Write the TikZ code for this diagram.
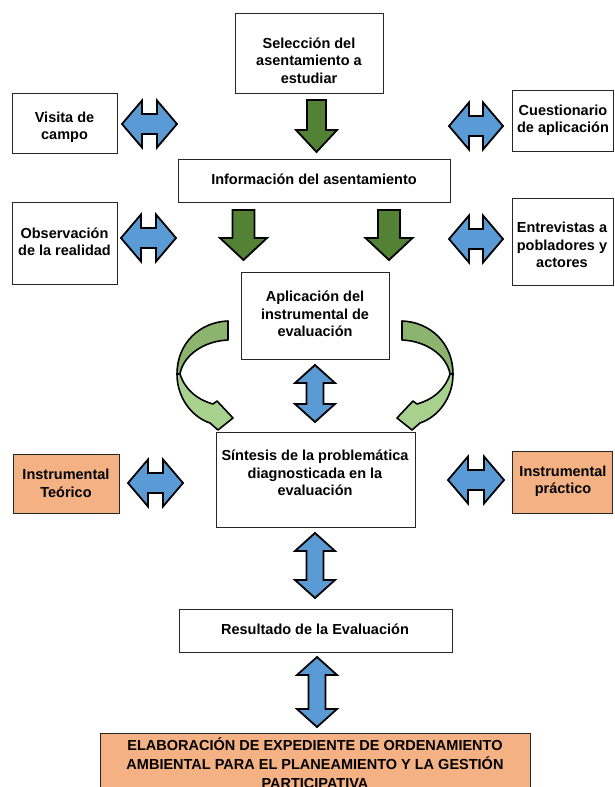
\documentclass[tikz,border=0pt]{standalone}
\usepackage{fontspec}
\setmainfont{Liberation Sans}
\definecolor{bl}{HTML}{5B9BD5}
\definecolor{gd}{HTML}{548235}
\definecolor{cvd}{HTML}{8CB46E}
\definecolor{cvl}{HTML}{A9D18E}
\definecolor{org}{HTML}{F4B183}
\tikzset{
 box/.style={draw=black!85, line width=0.9pt, fill=white, inner sep=0pt},
 obox/.style={box, fill=org},
 txt/.style={font=\bfseries\fontsize{14.5}{17.5}\selectfont, align=center, inner sep=0pt},
 bigtxt/.style={font=\bfseries\fontsize{14.5}{19}\selectfont, align=center, inner sep=0pt},
 bluearr/.style={draw=black, line width=1.8pt, fill=bl, line join=miter},
 greenarr/.style={draw=black, line width=1.8pt, fill=gd, line join=miter},
 curvd/.style={draw=black, line width=1.6pt, fill=cvd, line join=round},
 curvl/.style={draw=black, line width=1.6pt, fill=cvl, line join=round},
}
\newcommand{\HDA}[3]{\draw[bluearr] (#2,#1) -- (#2+20,#1-23.5) -- (#2+20,#1-10) -- (#3-20,#1-10) -- (#3-20,#1-23.5) -- (#3,#1) -- (#3-20,#1+23.5) -- (#3-20,#1+10) -- (#2+20,#1+10) -- (#2+20,#1+23.5) -- cycle;}
\newcommand{\VDA}[3]{\draw[bluearr] (#1,#2) -- (#1+20,#2+18) -- (#1+8.5,#2+18) -- (#1+8.5,#3-18) -- (#1+20,#3-18) -- (#1,#3) -- (#1-20,#3-18) -- (#1-8.5,#3-18) -- (#1-8.5,#2+18) -- (#1-20,#2+18) -- cycle;}
\newcommand{\GDA}[6]{\draw[greenarr] (#1-#5,#2) -- (#1+#5,#2) -- (#1+#5,#3-#6) -- (#1+#4,#3-#6) -- (#1,#3) -- (#1-#4,#3-#6) -- (#1-#5,#3-#6) -- cycle;}
\newcommand{\CURV}{%
 \draw[curvd] (228,321) .. controls (200,322) and (177,343) .. (177,374) -- (180,374) .. controls (183,356) and (203,341) .. (228,340) -- cycle;
 \draw[curvl] (177,374) .. controls (177,398) and (192,417) .. (210,423) -- (218,430) -- (233,418) -- (217,401) -- (213,404) .. controls (198,400) and (185,390) .. (180,374) -- cycle;}
\begin{document}
\begin{tikzpicture}[x=1pt,y=-1pt]
\useasboundingbox (0,0) rectangle (614,787);
\clip (0,0) rectangle (614,787);
\fill[white] (0,0) rectangle (614,787);
% boxes
\node[box, minimum width=148pt, minimum height=80pt] (sel) at (309,53) {};
\node[txt] (selt) at (309,60.5) {Selección del\\asentamiento a\\estudiar};
\node[box, minimum width=272pt, minimum height=43pt] (info) at (314,180.5) {};
\node[txt] (infot) at (314,179) {Información del asentamiento};
\node[box, minimum width=105pt, minimum height=60pt] (vis) at (64.5,123) {};
\node[txt] (vist) at (64.5,127) {Visita de\\campo};
\node[box, minimum width=105pt, minimum height=82pt] (obs) at (64.5,243) {};
\node[txt] (obst) at (64.5,242) {Observación\\de la realidad};
\node[box, minimum width=101pt, minimum height=61pt] (cue) at (562.5,120.5) {};
\node[txt] (cuet) at (563,120) {Cuestionario\\de aplicación};
\node[box, minimum width=101pt, minimum height=87pt] (ent) at (562.5,241.5) {};
\node[txt] (entt) at (562,245) {Entrevistas a\\pobladores y\\actores};
\node[box, minimum width=148pt, minimum height=87pt] (apl) at (315,315.5) {};
\node[txt] (aplt) at (315,314) {Aplicación del\\instrumental de\\evaluación};
\node[box, minimum width=199pt, minimum height=95pt] (sin) at (315.5,479.5) {};
\node[txt] (sint) at (315,473) {Síntesis de la problemática\\diagnosticada en la\\evaluación};
\node[obox, minimum width=106pt, minimum height=59pt] (teo) at (66,483.5) {};
\node[txt] (teot) at (66,483.5) {Instrumental\\Teórico};
\node[obox, minimum width=100pt, minimum height=62pt] (pra) at (562,482) {};
\node[txt] (prat) at (563,481) {Instrumental\\práctico};
\node[box, minimum width=273pt, minimum height=43pt] (res) at (315.5,630.5) {};
\node[txt] (rest) at (315,629) {Resultado de la Evaluación};
\node[obox, minimum width=430pt, minimum height=67pt] (fin) at (315,766.5) {};
\node[bigtxt, anchor=north] (fint) at (315,737.5) {ELABORACIÓN DE EXPEDIENTE DE ORDENAMIENTO\\AMBIENTAL PARA EL PLANEAMIENTO Y LA GESTIÓN\\PARTICIPATIVA};
% green arrows
\GDA{316.5}{100}{152}{20.5}{9.5}{22}
\GDA{243.5}{210}{260}{23.5}{11}{22}
\GDA{389}{210}{260}{23.5}{11}{22}
% blue horizontal arrows
\HDA{124}{122}{177}
\HDA{238}{121}{176}
\HDA{126}{449}{503}
\HDA{239}{449}{503}
\HDA{483}{128}{183}
\HDA{480}{448}{504}
% blue vertical arrows
\VDA{315}{365}{422}
\VDA{315}{533}{598}
\VDA{317}{657}{727}
% curved arrows
\CURV
\begin{scope}[shift={(630,0)}, xscale=-1]
\CURV
\end{scope}
\end{tikzpicture}
\end{document}
